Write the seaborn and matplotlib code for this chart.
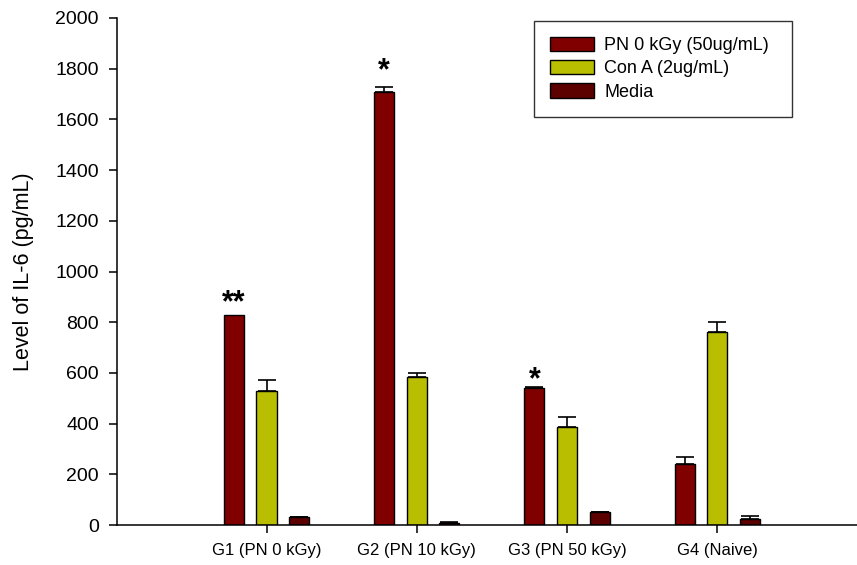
import matplotlib
matplotlib.use("Agg")
import matplotlib.pyplot as plt
import seaborn as sns
import pandas as pd
import numpy as np

# IL-6 levels (pg/mL) per immunisation group and stimulation
groups = ["G1 (PN 0 kGy)", "G2 (PN 10 kGy)", "G3 (PN 50 kGy)", "G4 (Naive)"]
treatments = ["PN 0 kGy (50ug/mL)", "Con A (2ug/mL)", "Media"]

pn_values = [828, 1708, 542, 240]
pn_errors = [0, 21, 2, 29]
cona_values = [528, 585, 385, 760]
cona_errors = [44, 16, 42, 42]
media_values = [30, 9, 50, 24]
media_errors = [2, 1, 2, 12]

significance = ["**", "*", "*", ""]

y_ticks = [0, 200, 400, 600, 800, 1000, 1200, 1400, 1600, 1800, 2000]

colors = ["#800000", "#b9bf00", "#5c0000"]

values = [pn_values, cona_values, media_values]
errors = [pn_errors, cona_errors, media_errors]

df = pd.DataFrame({
    "group": np.repeat([groups], len(treatments), axis=0).ravel(),
    "treatment": np.repeat(treatments, len(groups)),
    "value": np.concatenate(values),
})

sns.set_theme(style="ticks")
plt.rcParams["font.family"] = ["Liberation Sans", "DejaVu Sans"]
plt.rcParams["text.color"] = "black"
plt.rcParams["axes.labelcolor"] = "black"
plt.rcParams["xtick.color"] = "black"
plt.rcParams["ytick.color"] = "black"

fig = plt.figure(figsize=(8.57, 5.65), dpi=100)
ax = fig.add_axes([117 / 857, 1 - 525 / 565, 740 / 857, 507 / 565])

sns.barplot(
    data=df, x="group", y="value", hue="treatment",
    order=groups, hue_order=treatments, palette=colors,
    width=0.65, gap=0.385, saturation=1,
    edgecolor="black", linewidth=1.0, errorbar=None, ax=ax,
)

# upward-only error bars and significance marks on top of each bar
for container, errs in zip(ax.containers, errors):
    xs = np.array([b.get_x() + b.get_width() / 2 for b in container])
    hs = np.array([b.get_height() for b in container])
    errs = np.array(errs, dtype=float)
    mask = errs > 0
    ax.errorbar(xs[mask], hs[mask], yerr=[np.zeros(mask.sum()), errs[mask]],
                fmt="none", ecolor="black", elinewidth=1.2, capsize=6.2,
                capthick=1.2, zorder=3)

pn_bars = ax.containers[0]
star_offsets = [-2, 0, -6, 0]
for bar, err, mark, off in zip(pn_bars, pn_errors, significance, star_offsets):
    if mark:
        ax.annotate(mark, (bar.get_x() + bar.get_width() / 2, bar.get_height() + err),
                    xytext=(0, off), textcoords="offset points",
                    ha="center", va="bottom", fontsize=22, fontweight="bold")

ax.set_xlim(-0.995, 3.93)
ax.set_ylim(0, 2000)
ax.set_yticks(y_ticks)
ax.set_xlabel("")
ax.set_ylabel("Level of IL-6 (pg/mL)", fontsize=15.5, labelpad=15)
ax.tick_params(axis="y", labelsize=14, length=6, width=1.1, pad=7)
ax.tick_params(axis="x", labelsize=12, length=6, width=1.1, pad=7)

sns.despine(ax=ax)
for side in ["left", "bottom"]:
    ax.spines[side].set_linewidth(1.1)
    ax.spines[side].set_color("black")

leg = ax.legend(
    loc="upper left", bbox_to_anchor=(0.5635, 0.995, 0.349, 0.0), mode="expand",
    fontsize=13, frameon=True, fancybox=False, edgecolor="black",
    handlelength=2.4, handleheight=0.85, handletextpad=0.6,
    labelspacing=0.32, borderpad=0.9, borderaxespad=0,
)
leg.get_frame().set_linewidth(1.0)

fig.savefig("out.png", dpi=100)
